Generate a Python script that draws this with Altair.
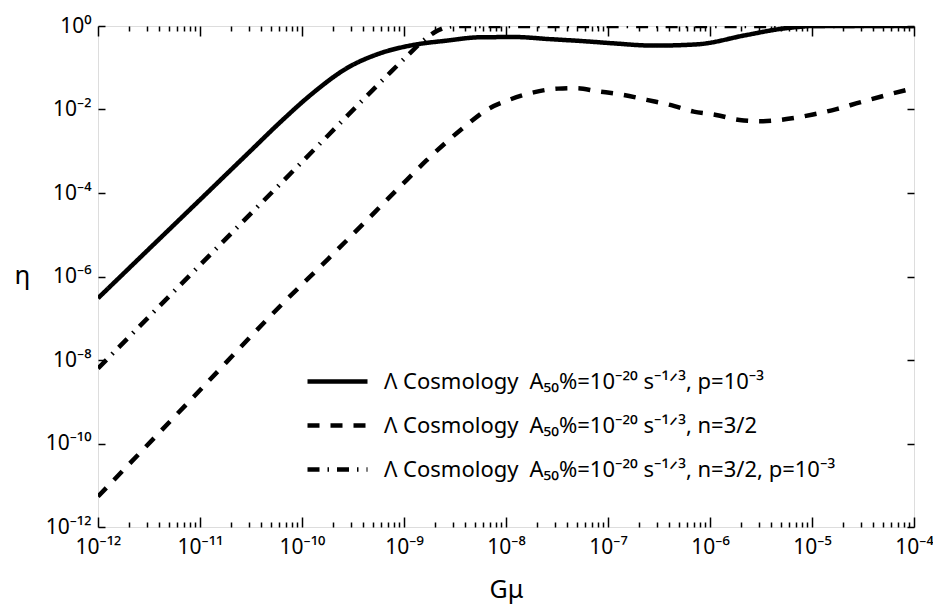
import altair as alt
import pandas as pd

# ---- data (log10 values) ----
series_labels = [
    "Λ Cosmology\u2002A₅₀%=10⁻²⁰ s⁻¹ᐟ³, p=10⁻³",
    "Λ Cosmology\u2002A₅₀%=10⁻²⁰ s⁻¹ᐟ³, n=3/2",
    "Λ Cosmology\u2002A₅₀%=10⁻²⁰ s⁻¹ᐟ³, n=3/2, p=10⁻³",
]

solid_logx = [-12, -11.5, -11.05, -10.5, -10.216, -9.89, -9.56, -9.235, -8.91, -8.58,
              -8.255, -7.9, -7.6, -7.2, -6.95, -6.55, -6.13, -5.64, -5.31, -5.12, -5.0,
              -4.5, -4.0]
solid_logy = [-6.52, -5.34, -4.28, -2.98, -2.31, -1.6, -1.01, -0.655, -0.455, -0.35,
              -0.27, -0.265, -0.31, -0.37, -0.415, -0.47, -0.44, -0.215, -0.07, -0.02, 0.0,
              0.0, 0.0]

dashed_logx = [-12, -11.05, -10.17, -9.74, -9.38, -9.186, -8.974, -8.78, -8.598, -8.40,
               -8.19, -7.96, -7.73, -7.49, -7.31, -7.11, -6.85, -6.62, -6.39, -6.16, -5.94,
               -5.71, -5.48, -5.25, -4.99, -4.76, -4.53, -4.2, -4.0]
dashed_logy = [-11.27, -8.85, -6.6, -5.57, -4.69, -4.21, -3.69, -3.22, -2.81, -2.40,
               -2.01, -1.76, -1.59, -1.50, -1.49, -1.56, -1.65, -1.77, -1.89, -2.05, -2.13,
               -2.25, -2.28, -2.23, -2.12, -1.99, -1.83, -1.61, -1.49]

dashdot_logx = [-12, -10.885, -9.74, -9.415, -9.17, -8.96, -8.8, -8.7, -8.6, -8.5, -6.0, -4.0]
dashdot_logy = [-8.2, -5.44, -2.61, -1.8, -1.2, -0.695, -0.33, -0.15, -0.04, 0.0, 0.0, 0.0]

x_tick_exps = [-12, -11, -10, -9, -8, -7, -6, -5, -4]
y_tick_exps = [0, -2, -4, -6, -8, -10, -12]

# ---- build table ----
rows = []
for lab, xs, ys in zip(series_labels,
                       [solid_logx, dashed_logx, dashdot_logx],
                       [solid_logy, dashed_logy, dashdot_logy]):
    for i, (lx, ly) in enumerate(zip(xs, ys)):
        rows.append({"series": lab, "order": i, "gmu": 10.0 ** lx, "eta": 10.0 ** ly})
df = pd.DataFrame(rows)

SUP = str.maketrans("-0123456789", "⁻⁰¹²³⁴⁵⁶⁷⁸⁹")


def label_expr(exps):
    e = "round(log(datum.value)/LN10)"
    parts = [f"{e}=={k} ? '10{str(k).translate(SUP)}'" for k in exps]
    return " : ".join(parts) + " : ''"


x_major = [10.0 ** k for k in x_tick_exps]
x_minor = [m * 10.0 ** k for k in x_tick_exps[:-1] for m in range(2, 10)]
y_major = [10.0 ** k for k in y_tick_exps]

xscale = alt.Scale(type="log", domain=[1e-12, 1e-4], nice=False)
yscale = alt.Scale(type="log", domain=[1e-12, 1], nice=False)

FONT = "Noto Sans"

main = alt.Chart(df).mark_line(
    color="black", strokeWidth=4.5, clip=True, interpolate="monotone"
).encode(
    x=alt.X("gmu:Q", scale=xscale, axis=alt.Axis(
        orient="bottom", values=x_major, labelExpr=label_expr(x_tick_exps),
        ticks=False, domain=False, grid=False, labelPadding=9,
        labelFontSize=21, labelFont=FONT, labelColor="black", labelFlush=False,
        title="Gμ", titleFontSize=25, titleFont=FONT, titleFontWeight="normal",
        titleColor="black", titlePadding=20)),
    y=alt.Y("eta:Q", scale=yscale, axis=alt.Axis(
        orient="left", values=y_major, labelExpr=label_expr(y_tick_exps),
        ticks=False, domain=False, grid=False, labelPadding=7,
        labelFontSize=21, labelFont=FONT, labelColor="black", labelFlush=False,
        labelBaseline="middle",
        title="η", titleFontSize=26, titleFont=FONT, titleFontWeight="normal",
        titleColor="black", titleAngle=0, titleX=-76, titleY=249,
        titleAlign="center", titleBaseline="middle")),
    strokeDash=alt.StrokeDash("series:N", scale=alt.Scale(
        domain=series_labels, range=[[1, 0], [12, 11], [12, 8, 1.5, 8]]),
        legend=alt.Legend(
            title=None, orient="none", legendX=207, legendY=323, padding=0,
            symbolType="stroke", symbolSize=3600, symbolStrokeWidth=4.5,
            symbolStrokeColor="black", labelFontSize=22, labelFont=FONT,
            labelColor="black", labelOffset=14, labelLimit=800, rowPadding=0)),
    order="order:Q",
)


def tick_layer(xaxis=None, yaxis=None):
    return alt.Chart(df).mark_line(opacity=0).encode(
        x=alt.X("gmu:Q", scale=xscale, axis=xaxis),
        y=alt.Y("eta:Q", scale=yscale, axis=yaxis),
    )


def tick_axis(orient, values, size):
    return alt.Axis(orient=orient, values=values, labels=False, domain=False,
                    grid=False, ticks=True, tickSize=size, offset=-size,
                    tickColor="black", tickWidth=1.5, title=None)


layers = [
    main,
    tick_layer(xaxis=tick_axis("bottom", x_major, 10)),
    tick_layer(xaxis=tick_axis("bottom", x_minor, 5)),
    tick_layer(xaxis=tick_axis("top", x_major, 10)),
    tick_layer(xaxis=tick_axis("top", x_minor, 5)),
    tick_layer(yaxis=tick_axis("left", y_major, 7)),
    tick_layer(yaxis=tick_axis("right", y_major, 7)),
]

chart = alt.layer(*layers).resolve_axis(
    x="independent", y="independent"
).properties(
    width=816, height=501,
    autosize=alt.AutoSizeParams(type="none"),
    padding={"left": 98, "top": 26, "right": 19, "bottom": 84},
).configure_view(
    stroke="black", strokeWidth=1.5
).configure(background="white")

chart.save("out.html", embed_options={"renderer": "svg", "actions": False})
